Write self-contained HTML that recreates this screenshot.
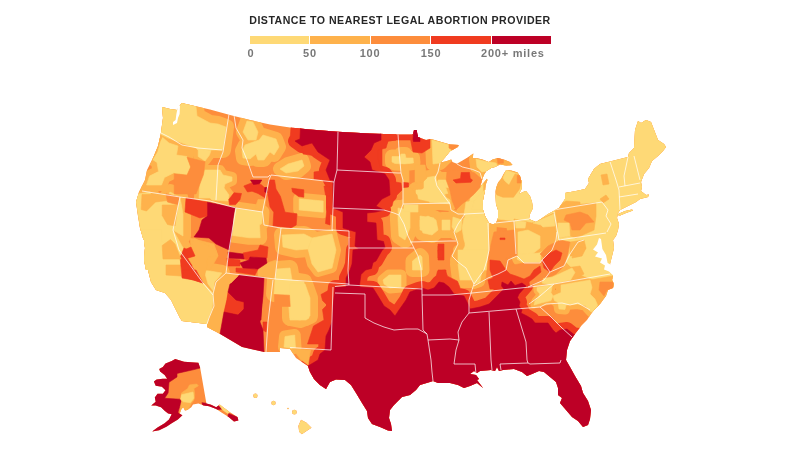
<!DOCTYPE html>
<html><head><meta charset="utf-8"><title>Distance to nearest legal abortion provider</title>
<style>
html,body{margin:0;padding:0;background:#fff;}
body{width:800px;height:450px;overflow:hidden;position:relative;font-family:"Liberation Sans",sans-serif;}
#title{position:absolute;left:0;width:800px;top:13.5px;text-align:center;font-weight:bold;font-size:10.6px;letter-spacing:0.49px;color:#262626;line-height:13px;white-space:nowrap;}
.lg{position:absolute;top:36.4px;height:8px;}
.lb{position:absolute;top:48.2px;font-size:10px;font-weight:bold;color:#787878;line-height:12px;letter-spacing:0.7px;white-space:nowrap;transform:translateX(-50%) scaleX(1.1);}
svg{position:absolute;left:0;top:0;}
</style></head><body>
<div id="title">DISTANCE TO NEAREST LEGAL ABORTION PROVIDER</div>

<div class="lg" style="left:249.6px;width:59.5px;background:#fed976"></div>
<div class="lg" style="left:310.1px;width:59.8px;background:#feb24c"></div>
<div class="lg" style="left:370.9px;width:59.2px;background:#fd8d3c"></div>
<div class="lg" style="left:431.1px;width:59.8px;background:#f03b20"></div>
<div class="lg" style="left:491.9px;width:59.5px;background:#bd0026"></div>
<div class="lb" style="left:250.8px">0</div>
<div class="lb" style="left:310px">50</div>
<div class="lb" style="left:369.8px">100</div>
<div class="lb" style="left:430.6px">150</div>
<div class="lb" style="left:480.6px;transform:scaleX(1.1);transform-origin:0 0">200+ miles</div>
<svg width="800" height="450" viewBox="0 0 800 450">
<defs><clipPath id="us"><path d="M162.0 107.0 L170.0 109.0 L177.0 110.0 L181.6 103.0 L210.0 109.6 L230.0 115.0 L250.0 120.0 L270.0 124.4 L290.0 127.5 L310.0 129.5 L338.0 131.8 L370.0 133.6 L398.0 134.4 L413.0 134.4 L414.0 130.0 L416.6 130.0 L418.0 137.0 L426.0 140.0 L431.0 139.0 L438.0 141.0 L450.0 144.4 L458.8 145.0 L458.0 146.9 L450.0 151.2 L445.0 157.5 L440.6 162.5 L446.2 161.2 L451.2 159.4 L452.5 161.9 L456.9 163.8 L462.5 160.6 L467.5 157.5 L471.2 155.0 L473.3 153.4 L472.8 158.1 L476.2 158.1 L482.5 159.4 L488.8 161.9 L492.5 159.4 L498.1 158.1 L505.0 160.0 L510.0 161.9 L512.5 165.0 L506.2 165.6 L500.0 164.4 L495.0 166.9 L491.2 168.1 L486.2 171.2 L483.8 175.0 L482.5 178.8 L481.2 183.1 L480.0 186.9 L483.8 182.5 L486.9 178.8 L487.5 180.0 L485.6 185.0 L485.0 191.0 L483.5 197.0 L482.5 204.0 L483.0 210.0 L485.0 216.0 L489.0 223.0 L493.0 224.4 L496.0 223.0 L498.0 218.0 L498.0 210.0 L496.0 204.0 L495.6 196.0 L495.6 191.0 L496.2 187.5 L498.1 182.5 L501.2 178.8 L503.8 173.8 L506.2 170.0 L511.2 170.6 L517.5 172.5 L520.0 176.2 L521.9 182.5 L521.5 189.0 L519.0 194.0 L523.0 192.0 L526.0 191.0 L530.0 196.0 L532.0 202.0 L533.0 208.0 L530.0 214.0 L529.0 219.0 L536.0 222.0 L540.0 219.5 L548.0 214.0 L559.0 208.0 L565.0 199.0 L565.0 193.0 L576.0 191.0 L585.0 189.0 L589.0 183.0 L588.0 179.0 L594.0 169.0 L600.0 164.0 L610.0 161.6 L628.0 157.0 L629.0 153.0 L634.0 148.0 L635.0 130.0 L638.0 121.0 L641.0 123.0 L646.0 120.0 L651.0 122.0 L658.0 140.0 L664.0 144.0 L666.0 147.0 L663.0 151.0 L658.0 156.0 L652.0 161.0 L649.0 168.0 L644.0 174.0 L641.0 182.0 L642.0 187.0 L641.0 191.0 L646.0 195.0 L649.0 194.4 L648.0 197.0 L640.0 199.0 L636.0 202.0 L628.0 206.0 L620.0 210.0 L618.0 213.0 L617.0 218.0 L619.0 224.0 L618.0 230.0 L616.0 236.0 L613.0 240.0 L614.0 248.0 L612.0 256.0 L610.0 264.0 L611.0 270.0 L613.0 276.0 L612.0 280.0 L614.0 284.0 L613.0 288.0 L608.0 290.0 L606.0 296.0 L600.0 304.0 L594.0 310.0 L591.0 314.0 L587.0 320.0 L582.0 325.0 L575.0 334.0 L570.0 341.0 L567.0 350.0 L566.0 360.0 L570.0 367.0 L575.0 376.0 L581.0 386.0 L583.0 393.0 L588.0 401.0 L591.0 410.0 L590.0 419.0 L588.0 425.0 L583.0 427.0 L578.0 421.0 L572.0 417.0 L566.0 410.0 L560.0 403.0 L562.0 398.0 L558.0 395.0 L558.0 388.0 L556.0 382.0 L550.0 377.0 L544.0 372.0 L539.0 371.0 L532.0 374.0 L527.0 376.0 L522.0 372.0 L514.0 369.0 L503.0 370.0 L499.0 371.0 L497.0 367.0 L495.0 371.0 L491.0 370.0 L480.0 371.0 L477.0 373.0 L474.0 371.0 L470.0 374.0 L476.0 375.0 L479.0 379.0 L477.0 380.0 L480.0 384.0 L483.0 388.0 L477.0 383.0 L470.0 386.0 L464.0 388.0 L458.0 385.0 L450.0 383.0 L438.0 383.0 L433.0 381.0 L430.0 382.0 L420.0 385.0 L416.0 390.0 L410.0 395.0 L402.0 397.0 L399.0 400.0 L394.0 405.0 L390.0 410.0 L389.0 418.0 L391.0 424.0 L392.0 431.0 L388.0 430.4 L380.0 427.0 L372.0 424.0 L368.0 418.0 L367.0 411.0 L362.0 403.0 L356.0 393.0 L351.0 385.0 L345.0 380.0 L336.0 379.4 L330.0 382.0 L326.0 389.0 L320.0 385.0 L314.0 379.0 L310.0 372.0 L308.0 366.0 L302.0 362.0 L296.0 358.0 L290.0 349.0 L280.0 348.0 L280.0 352.0 L264.0 352.0 L242.0 347.0 L220.0 334.0 L207.0 327.0 L207.0 324.0 L182.0 321.0 L180.0 318.0 L171.0 300.0 L165.0 293.0 L156.0 290.0 L151.0 282.0 L148.0 270.0 L146.0 270.0 L144.0 260.0 L145.0 248.0 L144.0 240.0 L143.0 238.0 L140.0 228.0 L138.0 216.0 L136.0 202.0 L139.0 192.0 L145.0 180.0 L147.0 170.0 L153.0 158.0 L158.0 146.0 L161.0 133.0 L162.0 125.0 L163.0 118.0Z M618.0 214.0 L625.0 211.0 L632.0 209.6 L633.0 210.6 L626.0 213.0 L619.0 216.0Z M175.2 359.1 L184.1 361.8 L198.4 362.7 L200.2 368.0 L206.4 403.6 L210.8 404.5 L216.2 407.2 L219.7 404.5 L223.3 407.2 L230.4 412.5 L237.5 416.9 L238.4 420.5 L234.0 421.4 L228.6 416.9 L221.5 412.5 L216.2 408.9 L209.1 406.3 L203.7 405.4 L198.4 403.6 L193.0 404.5 L191.3 407.2 L187.7 409.8 L185.0 410.7 L183.3 407.2 L181.5 408.9 L179.7 413.4 L182.4 415.2 L177.9 419.6 L171.7 423.2 L166.4 426.7 L159.2 430.3 L152.1 431.5 L157.5 427.6 L164.6 423.2 L169.0 419.6 L171.7 414.3 L168.1 413.4 L164.6 410.7 L161.0 407.2 L155.7 405.4 L151.2 405.4 L155.7 401.8 L154.8 397.4 L157.5 393.8 L162.8 393.8 L165.5 390.3 L161.9 386.7 L155.7 385.8 L153.9 381.4 L156.6 379.6 L162.8 378.7 L167.2 378.7 L164.6 375.1 L160.1 371.6 L159.2 368.9 L162.8 367.1 L165.5 363.6 L171.7 360.9Z M301.0 419.7 L306.3 422.4 L311.6 427.7 L306.3 431.2 L301.9 434.3 L299.2 432.1 L298.3 425.9Z M253.2 395.7 a2.2 2.2 0 1 0 4.4 0 a2.2 2.2 0 1 0 -4.4 0Z M271.3 403.0 a2.2 2.2 0 1 0 4.4 0 a2.2 2.2 0 1 0 -4.4 0Z M292.0 412.2 a2.4 2.4 0 1 0 4.8 0 a2.4 2.4 0 1 0 -4.8 0Z M287.2 408.5 a0.8 0.8 0 1 0 1.6 0 a0.8 0.8 0 1 0 -1.6 0Z"/></clipPath></defs>
<g clip-path="url(#us)" stroke-linejoin="round">
<rect x="100" y="90" width="600" height="360" fill="#fd8d3c"/>
<polygon points="204.0,270.0 222.0,273.0 215.0,282.0 214.0,292.0 208.0,284.0" fill="#feb24c" stroke="#feb24c" stroke-width="16"/>
<polygon points="282.0,235.0 304.0,234.0 312.0,238.0 308.0,249.0 296.0,250.0 283.0,247.0" fill="#feb24c" stroke="#feb24c" stroke-width="16"/>
<polygon points="312.0,238.0 332.0,234.0 336.0,250.0 332.0,268.0 318.0,272.0 312.0,264.0 308.0,249.0" fill="#feb24c" stroke="#feb24c" stroke-width="10"/>
<polygon points="277.0,269.0 290.0,268.0 292.0,280.0 304.0,282.0 305.0,294.0 288.0,297.0 274.0,294.0 275.0,280.0" fill="#feb24c" stroke="#feb24c" stroke-width="16"/>
<polygon points="288.0,297.0 305.0,294.0 308.0,300.0 309.0,318.0 306.0,320.0 290.0,320.0" fill="#feb24c" stroke="#feb24c" stroke-width="12"/>
<polygon points="247.0,121.0 253.0,122.0 258.0,132.0 256.0,140.0 248.0,140.0 243.0,132.0" fill="#feb24c" stroke="#feb24c" stroke-width="14"/>
<polygon points="242.0,151.0 245.0,145.0 259.0,140.0 263.0,135.0 276.0,139.0 279.0,147.0 274.0,155.0 270.0,152.0 264.0,160.0 258.0,160.0 256.0,154.0 250.0,159.0 243.0,158.0" fill="#feb24c" stroke="#feb24c" stroke-width="14"/>
<polygon points="280.0,169.0 288.0,164.0 302.0,160.0 304.0,166.0 298.0,171.0 286.0,173.0" fill="#feb24c" stroke="#feb24c" stroke-width="14"/>
<polygon points="160.0,106.0 181.6,102.0 196.0,106.4 197.0,116.0 210.0,123.0 218.0,124.0 226.0,127.0 223.0,150.0 210.0,150.0 198.0,150.0 196.0,148.0 182.0,143.0 168.0,138.0 160.0,134.0" fill="#feb24c" stroke="#feb24c" stroke-width="16"/>
<polygon points="138.0,194.0 150.0,192.0 154.0,202.0 166.0,200.0 170.0,192.0 180.0,197.0 183.0,214.0 183.0,236.0 173.0,230.0 182.0,246.0 196.0,270.0 144.0,270.0 142.0,240.0 136.0,202.0" fill="#feb24c" stroke="#feb24c" stroke-width="16"/>
<polygon points="418.0,190.0 442.0,190.0 444.0,202.0 418.0,202.0" fill="#feb24c" stroke="#feb24c" stroke-width="16"/>
<polygon points="438.0,180.0 450.0,180.0 450.0,188.0 438.0,186.0" fill="#feb24c" stroke="#feb24c" stroke-width="16"/>
<polygon points="398.0,208.0 410.0,210.0 410.0,228.0 405.0,240.0 399.0,236.0 398.0,220.0" fill="#feb24c" stroke="#feb24c" stroke-width="16"/>
<polygon points="420.0,216.0 434.0,218.0 434.0,232.0 420.0,230.0" fill="#feb24c" stroke="#feb24c" stroke-width="16"/>
<polygon points="442.0,220.0 450.0,220.0 450.0,230.0 442.0,230.0" fill="#feb24c" stroke="#feb24c" stroke-width="16"/>
<polygon points="392.0,156.5 400.0,156.5 401.0,154.0 405.0,154.0 406.0,158.0 413.0,158.0 413.5,163.0 405.0,164.0 395.0,163.5 392.0,162.0" fill="#feb24c" stroke="#feb24c" stroke-width="14"/>
<polygon points="432.0,140.0 450.0,145.0 453.0,150.0 440.0,163.0 433.0,164.0" fill="#feb24c" stroke="#feb24c" stroke-width="14"/>
<polygon points="476.0,159.0 484.0,161.0 496.0,163.0 498.0,167.0 492.0,170.0 482.0,172.0 477.0,167.0" fill="#feb24c" stroke="#feb24c" stroke-width="14"/>
<polygon points="506.0,170.0 518.0,174.0 516.0,186.0 508.0,186.0 503.0,178.0" fill="#feb24c" stroke="#feb24c" stroke-width="14"/>
<polygon points="497.0,219.0 494.0,196.0 540.0,160.0 560.0,190.0 585.0,170.0 620.0,140.0 630.0,110.0 670.0,115.0 680.0,150.0 660.0,200.0 630.0,225.0 625.0,250.0 622.0,275.0 615.0,280.0 596.0,281.0 575.0,272.5 572.0,268.0 566.0,262.0 566.0,250.0 560.0,246.0 548.0,252.0 535.0,258.0 520.0,258.0 516.0,240.0 514.0,221.0" fill="#feb24c" stroke="#feb24c" stroke-width="16"/>
<polygon points="472.0,180.0 483.0,180.0 483.0,206.0 485.0,214.0 489.0,223.0 488.0,240.0 487.0,270.0 460.0,270.0 458.0,260.0 465.0,246.0 465.0,216.0 470.0,200.0" fill="#feb24c" stroke="#feb24c" stroke-width="16"/>
<polygon points="416.0,190.0 444.0,190.0 446.0,200.0 430.0,202.0 416.0,198.0" fill="#feb24c" stroke="#feb24c" stroke-width="16"/>
<polygon points="420.0,220.0 428.0,216.0 436.0,220.0 438.0,230.0 432.0,235.0 423.0,233.0 420.0,226.0" fill="#feb24c" stroke="#feb24c" stroke-width="16"/>
<polygon points="453.0,217.0 462.0,220.0 461.0,230.0 456.0,233.0 452.0,227.0" fill="#feb24c" stroke="#feb24c" stroke-width="14"/>
<polygon points="464.0,218.0 484.0,216.0 488.0,226.0 489.0,250.0 486.0,268.0 478.0,270.0 474.0,280.0 460.0,280.0 458.0,264.0 464.0,266.0 468.0,250.0 464.0,240.0 462.0,228.0" fill="#feb24c" stroke="#feb24c" stroke-width="16"/>
<polygon points="466.0,202.0 483.0,200.0 483.0,214.0 464.0,215.0" fill="#feb24c" stroke="#feb24c" stroke-width="16"/>
<polygon points="458.0,250.0 488.0,250.0 488.0,262.0 482.0,270.0 480.0,282.0 474.0,284.0 470.0,272.0 462.0,268.0 458.0,262.0" fill="#feb24c" stroke="#feb24c" stroke-width="10"/>
<polygon points="389.0,275.0 401.0,275.0 401.0,287.0 390.0,288.0 384.0,284.0 383.0,280.0" fill="#feb24c" stroke="#feb24c" stroke-width="11.0"/>
<polygon points="290.0,284.0 305.0,284.0 310.0,298.0 310.0,316.0 300.0,320.0 290.0,318.0" fill="#feb24c" stroke="#feb24c" stroke-width="16"/>
<polygon points="285.0,336.5 294.7,335.0 295.5,347.7 292.5,348.5 284.0,347.0" fill="#feb24c" stroke="#feb24c" stroke-width="12"/>
<polygon points="142.0,230.0 162.0,230.0 162.0,242.0 170.0,248.0 180.0,256.0 182.0,277.0 190.0,279.0 203.0,283.0 214.0,294.0 210.0,324.0 180.0,324.0 150.0,290.0 142.0,250.0" fill="#feb24c" stroke="#feb24c" stroke-width="16"/>
<polygon points="543.5,278.5 552.5,277.0 572.0,268.0 575.0,272.5 570.5,280.0 549.5,284.5 542.0,283.0" fill="#feb24c" stroke="#feb24c" stroke-width="10"/>
<polygon points="537.0,287.5 552.5,284.4 551.0,292.5 553.0,296.0 551.0,300.6 541.0,303.0 534.0,305.0 535.0,301.0 538.0,297.5 540.0,294.0 537.0,290.6" fill="#feb24c" stroke="#feb24c" stroke-width="7.0"/>
<polygon points="561.0,285.0 590.0,280.0 592.0,287.5 590.0,294.0 595.0,299.0 597.5,305.0 596.0,311.0 591.0,312.0 585.0,305.6 577.5,304.0 566.0,305.0 565.0,309.4 559.0,309.0 558.0,302.5 554.4,300.6 553.0,296.0 561.0,292.5" fill="#feb24c" stroke="#feb24c" stroke-width="10"/>
<polygon points="235.5,208.5 262.5,212.2 261.8,223.5 259.5,225.0 260.2,237.8 249.0,237.8 232.5,235.5 234.0,217.5" fill="#feb24c" stroke="#feb24c" stroke-width="14"/>
<polygon points="205.0,170.0 220.0,170.0 223.0,175.0 232.0,177.0 232.0,181.0 225.0,184.0 224.0,188.0 229.0,195.0 228.0,201.0 212.0,200.0 210.0,198.0 199.0,198.0 200.0,182.0" fill="#feb24c" stroke="#feb24c" stroke-width="10"/>
<polygon points="299.2,198.8 323.2,201.0 323.2,212.2 299.2,210.0" fill="#feb24c" stroke="#feb24c" stroke-width="12"/>
<polygon points="424.0,178.0 436.0,176.0 437.0,186.0 444.0,196.0 450.0,200.0 450.0,204.0 430.0,202.0 418.0,200.0 417.0,194.0 424.0,188.0" fill="#feb24c" stroke="#feb24c" stroke-width="14"/>
<polygon points="404.0,205.0 418.0,205.0 418.0,212.0 404.0,212.0" fill="#feb24c" stroke="#feb24c" stroke-width="12"/>
<polygon points="480.0,194.0 486.0,189.0 484.4,210.0 472.0,210.0 474.0,202.0" fill="#feb24c" stroke="#feb24c" stroke-width="10"/>
<polygon points="412.5,261.0 420.0,255.0 422.0,257.0 422.5,270.0 412.5,270.0" fill="#feb24c" stroke="#feb24c" stroke-width="14"/>
<polygon points="162.2,137.0 169.0,143.0 178.0,146.0 176.5,155.0 187.0,156.5 190.0,167.0 187.0,174.5 173.5,173.0 164.5,177.5 161.5,185.0 146.5,185.0 149.5,176.0 158.5,171.5 157.0,162.5 152.5,159.5 157.0,152.0 160.0,141.5" fill="#feb24c" stroke="#feb24c" stroke-width="12"/>
<polygon points="198.2,149.0 211.0,150.5 209.5,155.0 205.0,161.0 198.2,156.5" fill="#feb24c" stroke="#feb24c" stroke-width="10"/>
<polygon points="437.2,181.5 444.0,182.2 447.8,193.5 442.5,194.2 438.0,187.5" fill="#feb24c" stroke="#feb24c" stroke-width="8"/>
<polygon points="300.0,125.0 381.0,132.0 381.0,140.0 374.0,143.0 371.0,150.0 364.0,157.0 370.0,162.0 372.0,170.0 385.0,174.0 389.0,180.0 390.0,195.0 382.0,199.0 376.0,206.0 384.0,210.0 376.0,212.0 367.0,213.0 367.0,222.0 376.0,223.0 377.0,240.0 383.5,241.5 385.0,247.5 382.0,250.5 376.0,261.0 373.0,262.5 371.5,268.5 365.5,270.0 361.0,274.5 359.5,285.0 360.0,287.0 373.0,288.0 378.0,296.0 384.0,306.0 390.0,310.0 395.0,316.0 399.0,310.0 406.0,300.0 410.0,292.0 418.0,289.0 422.0,288.0 428.0,290.0 434.0,288.0 439.0,282.0 444.0,283.0 449.0,287.0 454.0,294.0 464.0,296.0 468.0,304.0 470.0,309.0 480.0,307.0 489.0,304.0 495.0,298.0 500.0,293.0 504.0,289.0 501.5,286.0 502.0,282.0 508.0,285.0 511.0,281.0 515.0,285.5 522.0,283.0 526.0,286.0 523.0,289.5 519.0,294.0 517.5,297.5 520.0,302.0 519.0,306.0 522.0,310.0 521.0,313.0 527.0,316.0 532.0,319.0 535.0,323.0 541.0,323.0 548.0,323.0 553.0,330.0 556.0,333.0 560.0,330.0 567.0,329.0 574.0,334.5 580.0,335.0 640.0,330.0 640.0,460.0 322.0,460.0 322.0,392.0 300.0,370.0 308.0,366.0 318.0,360.0 320.0,354.0 325.0,350.0 326.0,336.0 329.0,330.0 332.0,322.0 333.0,306.0 335.0,287.0 346.0,287.0 346.0,278.0 350.0,270.0 352.0,264.0 353.0,250.0 359.0,249.0 355.0,246.0 356.0,232.0 343.0,228.0 343.0,212.0 333.0,208.0 333.0,180.0 330.0,180.0 326.0,170.0 330.0,160.0 318.0,152.0 312.0,143.0 305.0,145.0 302.0,146.0 295.0,141.0 300.0,139.0 301.0,115.0" fill="#f03b20" stroke="#f03b20" stroke-width="14"/>
<polygon points="204.0,270.0 222.0,273.0 215.0,282.0 214.0,292.0 208.0,284.0" fill="#fed976" stroke="#fed976" stroke-width="0.6"/>
<polygon points="282.0,235.0 304.0,234.0 312.0,238.0 308.0,249.0 296.0,250.0 283.0,247.0" fill="#fed976" stroke="#fed976" stroke-width="0.6"/>
<polygon points="312.0,238.0 332.0,234.0 336.0,250.0 332.0,268.0 318.0,272.0 312.0,264.0 308.0,249.0" fill="#fed976" stroke="#fed976" stroke-width="0.6"/>
<polygon points="277.0,269.0 290.0,268.0 292.0,280.0 304.0,282.0 305.0,294.0 288.0,297.0 274.0,294.0 275.0,280.0" fill="#fed976" stroke="#fed976" stroke-width="0.6"/>
<polygon points="288.0,297.0 305.0,294.0 308.0,300.0 309.0,318.0 306.0,320.0 290.0,320.0" fill="#fed976" stroke="#fed976" stroke-width="0.6"/>
<polygon points="258.0,269.0 267.0,263.0 276.0,260.0 275.0,278.0 258.0,276.0" fill="#feb24c" stroke="#feb24c" stroke-width="0.6"/>
<polygon points="215.0,282.0 226.0,273.0 237.0,275.6 230.0,284.0 229.0,292.0 226.0,300.0 224.0,314.0 212.0,316.0 214.0,296.0" fill="#feb24c" stroke="#feb24c" stroke-width="0.6"/>
<polygon points="243.0,253.0 258.0,250.0 260.0,245.0 268.0,247.0 267.0,258.0 250.0,257.0 249.0,260.0 244.0,259.0" fill="#f03b20" stroke="#f03b20" stroke-width="0.6"/>
<polygon points="227.0,258.0 240.0,260.0 240.0,266.0 228.0,266.0" fill="#f03b20" stroke="#f03b20" stroke-width="0.6"/>
<polygon points="236.0,268.0 258.0,269.0 255.0,275.0 236.0,272.0" fill="#f03b20" stroke="#f03b20" stroke-width="0.6"/>
<polygon points="229.0,292.0 236.0,298.0 244.0,301.0 243.0,313.0 224.0,314.0 226.0,300.0" fill="#f03b20" stroke="#f03b20" stroke-width="0.6"/>
<polygon points="228.0,252.0 243.0,254.0 244.0,259.0 229.0,258.0" fill="#bd0026" stroke="#bd0026" stroke-width="0.6"/>
<polygon points="240.0,263.0 249.0,260.0 250.0,257.0 266.0,258.0 267.0,263.0 258.0,269.0 243.0,268.0" fill="#bd0026" stroke="#bd0026" stroke-width="0.6"/>
<polygon points="237.0,275.6 263.0,278.0 261.0,320.0 223.0,320.0 224.0,314.0 243.0,313.0 244.0,301.0 236.0,298.0 229.0,292.0 230.0,284.0" fill="#bd0026" stroke="#bd0026" stroke-width="0.6"/>
<polygon points="207.0,202.0 236.0,208.0 229.0,250.0 216.0,244.0 209.0,238.0 194.0,237.0 199.0,230.0 202.0,220.0 207.0,216.0" fill="#bd0026" stroke="#bd0026" stroke-width="0.6"/>
<polygon points="247.0,121.0 253.0,122.0 258.0,132.0 256.0,140.0 248.0,140.0 243.0,132.0" fill="#fed976" stroke="#fed976" stroke-width="0.6"/>
<polygon points="242.0,151.0 245.0,145.0 259.0,140.0 263.0,135.0 276.0,139.0 279.0,147.0 274.0,155.0 270.0,152.0 264.0,160.0 258.0,160.0 256.0,154.0 250.0,159.0 243.0,158.0" fill="#fed976" stroke="#fed976" stroke-width="0.6"/>
<polygon points="280.0,169.0 288.0,164.0 302.0,160.0 304.0,166.0 298.0,171.0 286.0,173.0" fill="#fed976" stroke="#fed976" stroke-width="0.6"/>
<polygon points="291.0,127.0 301.0,128.0 300.0,139.0 295.0,141.0 290.0,140.0" fill="#f03b20" stroke="#f03b20" stroke-width="0.6"/>
<polygon points="302.0,148.0 314.0,144.0 318.0,152.0 330.0,158.0 322.0,158.0 310.0,155.0 303.0,154.0" fill="#f03b20" stroke="#f03b20" stroke-width="0.6"/>
<polygon points="314.0,172.0 326.0,170.0 327.0,180.0 334.0,182.0 334.0,190.0 326.0,190.0 325.0,180.0 314.0,179.0" fill="#f03b20" stroke="#f03b20" stroke-width="0.6"/>
<polygon points="160.0,106.0 181.6,102.0 196.0,106.4 197.0,116.0 210.0,123.0 218.0,124.0 226.0,127.0 223.0,150.0 210.0,150.0 198.0,150.0 196.0,148.0 182.0,143.0 168.0,138.0 160.0,134.0" fill="#fed976" stroke="#fed976" stroke-width="0.6"/>
<polygon points="138.0,194.0 150.0,192.0 154.0,202.0 166.0,200.0 170.0,192.0 180.0,197.0 183.0,214.0 183.0,236.0 173.0,230.0 182.0,246.0 196.0,270.0 144.0,270.0 142.0,240.0 136.0,202.0" fill="#fed976" stroke="#fed976" stroke-width="0.6"/>
<polygon points="190.0,238.0 214.0,244.0 218.0,256.0 210.0,270.0 196.0,270.0 192.0,256.0" fill="#feb24c" stroke="#feb24c" stroke-width="0.6"/>
<polygon points="186.0,198.0 207.0,202.0 207.0,216.0 200.0,218.0 185.0,212.0" fill="#f03b20" stroke="#f03b20" stroke-width="0.6"/>
<polygon points="184.0,248.0 192.0,252.0 196.0,262.0 188.0,270.0 180.0,258.0" fill="#f03b20" stroke="#f03b20" stroke-width="0.6"/>
<polygon points="418.0,190.0 442.0,190.0 444.0,202.0 418.0,202.0" fill="#fed976" stroke="#fed976" stroke-width="0.6"/>
<polygon points="438.0,180.0 450.0,180.0 450.0,188.0 438.0,186.0" fill="#fed976" stroke="#fed976" stroke-width="0.6"/>
<polygon points="398.0,208.0 410.0,210.0 410.0,228.0 405.0,240.0 399.0,236.0 398.0,220.0" fill="#fed976" stroke="#fed976" stroke-width="0.6"/>
<polygon points="420.0,216.0 434.0,218.0 434.0,232.0 420.0,230.0" fill="#fed976" stroke="#fed976" stroke-width="0.6"/>
<polygon points="442.0,220.0 450.0,220.0 450.0,230.0 442.0,230.0" fill="#fed976" stroke="#fed976" stroke-width="0.6"/>
<polygon points="438.0,244.0 444.0,244.0 444.0,260.0 438.0,260.0" fill="#f03b20" stroke="#f03b20" stroke-width="0.6"/>
<polygon points="392.0,156.5 400.0,156.5 401.0,154.0 405.0,154.0 406.0,158.0 413.0,158.0 413.5,163.0 405.0,164.0 395.0,163.5 392.0,162.0" fill="#fed976" stroke="#fed976" stroke-width="0.6"/>
<polygon points="412.4,130.0 418.0,130.0 420.0,141.0 412.4,141.0" fill="#bd0026" stroke="#bd0026" stroke-width="0.6"/>
<polygon points="432.0,140.0 450.0,145.0 453.0,150.0 440.0,163.0 433.0,164.0" fill="#fed976" stroke="#fed976" stroke-width="0.6"/>
<polygon points="476.0,159.0 484.0,161.0 496.0,163.0 498.0,167.0 492.0,170.0 482.0,172.0 477.0,167.0" fill="#fed976" stroke="#fed976" stroke-width="0.6"/>
<polygon points="506.0,170.0 518.0,174.0 516.0,186.0 508.0,186.0 503.0,178.0" fill="#fed976" stroke="#fed976" stroke-width="0.6"/>
<polygon points="413.0,130.0 418.0,130.0 419.0,140.0 413.0,140.0" fill="#bd0026" stroke="#bd0026" stroke-width="0.6"/>
<polygon points="453.0,179.0 461.0,178.0 461.0,172.0 469.0,172.0 469.0,178.0 474.0,180.0 470.0,182.0 457.0,183.0" fill="#f03b20" stroke="#f03b20" stroke-width="0.6"/>
<polygon points="497.0,219.0 494.0,196.0 540.0,160.0 560.0,190.0 585.0,170.0 620.0,140.0 630.0,110.0 670.0,115.0 680.0,150.0 660.0,200.0 630.0,225.0 625.0,250.0 622.0,275.0 615.0,280.0 596.0,281.0 575.0,272.5 572.0,268.0 566.0,262.0 566.0,250.0 560.0,246.0 548.0,252.0 535.0,258.0 520.0,258.0 516.0,240.0 514.0,221.0" fill="#fed976" stroke="#fed976" stroke-width="0.6"/>
<polygon points="472.0,180.0 483.0,180.0 483.0,206.0 485.0,214.0 489.0,223.0 488.0,240.0 487.0,270.0 460.0,270.0 458.0,260.0 465.0,246.0 465.0,216.0 470.0,200.0" fill="#fed976" stroke="#fed976" stroke-width="0.6"/>
<polygon points="416.0,190.0 444.0,190.0 446.0,200.0 430.0,202.0 416.0,198.0" fill="#fed976" stroke="#fed976" stroke-width="0.6"/>
<polygon points="420.0,220.0 428.0,216.0 436.0,220.0 438.0,230.0 432.0,235.0 423.0,233.0 420.0,226.0" fill="#fed976" stroke="#fed976" stroke-width="0.6"/>
<polygon points="453.0,217.0 462.0,220.0 461.0,230.0 456.0,233.0 452.0,227.0" fill="#fed976" stroke="#fed976" stroke-width="0.6"/>
<polygon points="464.0,218.0 484.0,216.0 488.0,226.0 489.0,250.0 486.0,268.0 478.0,270.0 474.0,280.0 460.0,280.0 458.0,264.0 464.0,266.0 468.0,250.0 464.0,240.0 462.0,228.0" fill="#fed976" stroke="#fed976" stroke-width="0.6"/>
<polygon points="466.0,202.0 483.0,200.0 483.0,214.0 464.0,215.0" fill="#fed976" stroke="#fed976" stroke-width="0.6"/>
<polygon points="438.0,246.0 443.0,246.0 443.0,258.0 438.0,258.0" fill="#f03b20" stroke="#f03b20" stroke-width="0.6"/>
<polygon points="438.0,270.0 446.0,270.0 446.0,280.0 438.0,280.0" fill="#f03b20" stroke="#f03b20" stroke-width="0.6"/>
<polygon points="458.0,250.0 488.0,250.0 488.0,262.0 482.0,270.0 480.0,282.0 474.0,284.0 470.0,272.0 462.0,268.0 458.0,262.0" fill="#fed976" stroke="#fed976" stroke-width="0.6"/>
<polygon points="438.0,250.0 443.0,250.0 443.0,258.0 439.0,258.0" fill="#f03b20" stroke="#f03b20" stroke-width="0.6"/>
<polygon points="389.0,275.0 401.0,275.0 401.0,287.0 390.0,288.0 384.0,284.0 383.0,280.0" fill="#fed976" stroke="#fed976" stroke-width="0.6"/>
<polygon points="290.0,284.0 305.0,284.0 310.0,298.0 310.0,316.0 300.0,320.0 290.0,318.0" fill="#fed976" stroke="#fed976" stroke-width="0.6"/>
<polygon points="285.0,336.5 294.7,335.0 295.5,347.7 292.5,348.5 284.0,347.0" fill="#fed976" stroke="#fed976" stroke-width="0.6"/>
<polygon points="142.0,230.0 162.0,230.0 162.0,242.0 170.0,248.0 180.0,256.0 182.0,277.0 190.0,279.0 203.0,283.0 214.0,294.0 210.0,324.0 180.0,324.0 150.0,290.0 142.0,250.0" fill="#fed976" stroke="#fed976" stroke-width="0.6"/>
<polygon points="166.0,265.0 181.0,265.0 181.0,276.0 166.0,275.0" fill="#feb24c" stroke="#feb24c" stroke-width="0.6"/>
<polygon points="194.0,238.0 216.0,250.0 218.0,256.0 208.0,257.0 206.0,270.0 203.0,281.0 198.0,275.0 188.0,258.0 195.0,256.0 191.0,247.0" fill="#feb24c" stroke="#feb24c" stroke-width="0.6"/>
<polygon points="180.0,256.0 187.0,258.0 198.0,276.0 203.0,283.0 190.0,279.0 182.0,277.0" fill="#f03b20" stroke="#f03b20" stroke-width="0.6"/>
<polygon points="184.0,250.0 191.0,247.0 195.0,256.0 188.0,258.0" fill="#f03b20" stroke="#f03b20" stroke-width="0.6"/>
<polygon points="145.0,352.0 203.7,352.0 200.2,368.0 193.0,369.8 177.0,373.4 177.0,376.9 171.7,380.5 169.0,382.2 168.1,392.9 164.6,398.3 179.7,399.2 181.5,400.9 180.6,403.6 177.9,412.5 183.3,416.1 171.7,433.9 145.0,433.9" fill="#bd0026" stroke="#bd0026" stroke-width="0.6"/>
<polygon points="201.9,402.7 206.4,403.2 216.2,406.8 218.0,405.4 223.3,408.9 216.2,409.8 209.1,406.8 202.8,405.4" fill="#bd0026" stroke="#bd0026" stroke-width="0.6"/>
<polygon points="228.6,413.4 239.3,417.8 239.3,422.3 233.1,421.8 227.7,416.9" fill="#bd0026" stroke="#bd0026" stroke-width="0.6"/>
<polygon points="181.5,392.9 187.7,388.5 189.5,384.9 196.6,384.0 198.4,385.8 193.9,388.5 194.8,394.7 193.9,400.0 191.3,403.6 187.7,410.7 183.3,408.9 179.7,413.4 181.5,401.8" fill="#feb24c" stroke="#feb24c" stroke-width="0.6"/>
<polygon points="181.5,394.7 193.0,392.0 193.9,398.3 190.4,402.7 183.3,401.8 180.6,399.2" fill="#fed976" stroke="#fed976" stroke-width="0.6"/>
<polygon points="218.3,404.1 220.6,404.1 224.2,407.2 229.5,412.5 227.7,413.4 222.4,409.8" fill="#fed976" stroke="#fed976" stroke-width="0.6"/>
<polygon points="555.0,210.0 560.0,206.0 596.0,203.0 596.0,216.0 594.0,230.0 576.0,238.0 570.0,236.0 558.0,238.0 557.0,222.0" fill="#feb24c" stroke="#feb24c" stroke-width="0.6"/>
<polygon points="566.0,215.0 580.0,212.0 588.0,215.0 594.0,222.0 586.0,223.0 580.0,230.0 572.0,230.0 570.0,223.0 564.0,220.0" fill="#fd8d3c" stroke="#fd8d3c" stroke-width="0.6"/>
<polygon points="558.0,223.0 569.0,223.0 570.0,236.0 558.0,238.0" fill="#fed976" stroke="#fed976" stroke-width="0.6"/>
<polygon points="560.0,205.0 566.0,201.0 580.0,202.0 580.0,206.0 560.0,210.0" fill="#feb24c" stroke="#feb24c" stroke-width="0.6"/>
<polygon points="600.0,199.0 606.0,195.0 609.0,199.0 603.0,203.0" fill="#feb24c" stroke="#feb24c" stroke-width="0.6"/>
<polygon points="514.0,219.0 532.0,223.0 554.0,213.0 557.0,240.0 546.0,249.0 530.0,257.0 517.0,257.0" fill="#feb24c" stroke="#feb24c" stroke-width="0.6"/>
<polygon points="518.0,232.0 528.0,230.0 540.0,236.0 540.0,248.0 530.0,256.0 518.0,254.0" fill="#fed976" stroke="#fed976" stroke-width="0.6"/>
<polygon points="533.0,223.0 554.0,214.0 555.0,226.0 543.0,227.0 541.0,225.0" fill="#fed976" stroke="#fed976" stroke-width="0.6"/>
<polygon points="515.0,220.0 526.0,222.0 525.0,228.0 516.0,228.0" fill="#fed976" stroke="#fed976" stroke-width="0.6"/>
<polygon points="570.0,242.0 584.0,240.0 586.0,248.0 580.0,256.0 570.0,256.0" fill="#feb24c" stroke="#feb24c" stroke-width="0.6"/>
<polygon points="576.0,246.0 586.0,248.0 582.0,256.0 572.0,258.0" fill="#feb24c" stroke="#feb24c" stroke-width="0.6"/>
<polygon points="566.0,268.0 580.0,266.0 584.0,274.0 574.0,280.0 564.0,278.0" fill="#feb24c" stroke="#feb24c" stroke-width="0.6"/>
<polygon points="590.0,280.0 613.0,276.0 614.0,288.0 606.0,296.0 600.0,304.0 594.0,310.0 588.0,300.0" fill="#feb24c" stroke="#feb24c" stroke-width="0.6"/>
<polygon points="600.0,282.0 613.0,282.0 613.0,288.0 607.0,290.0 604.0,296.0 599.0,290.0" fill="#fd8d3c" stroke="#fd8d3c" stroke-width="0.6"/>
<polygon points="518.0,254.0 540.0,253.0 541.0,262.0 524.0,263.0 517.0,259.0" fill="#fed976" stroke="#fed976" stroke-width="0.6"/>
<polygon points="494.0,232.0 514.0,230.0 517.0,256.0 506.0,258.0 508.0,266.0 524.0,263.0 540.0,263.0 544.0,258.0 540.0,254.0 548.0,246.0 560.0,240.0 570.0,242.0 568.0,254.0 564.0,266.0 556.0,274.0 544.0,280.0 534.0,284.0 528.0,288.0 490.0,288.0 486.0,280.0 488.0,260.0 491.0,244.0" fill="#fd8d3c" stroke="#fd8d3c" stroke-width="0.6"/>
<polygon points="490.0,260.0 500.0,261.0 506.0,270.0 510.0,274.0 516.0,276.0 524.0,279.0 530.0,276.0 534.0,270.0 540.0,266.0 541.0,272.0 534.0,278.0 529.0,282.0 530.0,289.0 490.0,289.0 488.0,280.0 493.0,278.0 490.0,270.0" fill="#f03b20" stroke="#f03b20" stroke-width="0.6"/>
<polygon points="542.0,260.0 548.0,254.0 556.0,250.0 562.0,253.0 560.0,260.0 554.0,266.0 550.0,272.0 544.0,268.0" fill="#f03b20" stroke="#f03b20" stroke-width="0.6"/>
<polygon points="500.0,238.0 505.0,238.0 505.0,239.6 500.0,239.6" fill="#f03b20" stroke="#f03b20" stroke-width="0.6"/>
<polygon points="543.5,278.5 552.5,277.0 572.0,268.0 575.0,272.5 570.5,280.0 549.5,284.5 542.0,283.0" fill="#fed976" stroke="#fed976" stroke-width="0.6"/>
<polygon points="537.0,287.5 552.5,284.4 551.0,292.5 553.0,296.0 551.0,300.6 541.0,303.0 534.0,305.0 535.0,301.0 538.0,297.5 540.0,294.0 537.0,290.6" fill="#fed976" stroke="#fed976" stroke-width="0.6"/>
<polygon points="561.0,285.0 590.0,280.0 592.0,287.5 590.0,294.0 595.0,299.0 597.5,305.0 596.0,311.0 591.0,312.0 585.0,305.6 577.5,304.0 566.0,305.0 565.0,309.4 559.0,309.0 558.0,302.5 554.4,300.6 553.0,296.0 561.0,292.5" fill="#fed976" stroke="#fed976" stroke-width="0.6"/>
<polygon points="216.0,282.0 224.0,274.0 239.0,275.0 230.0,284.0 228.0,292.0 224.0,312.0 220.0,334.0 207.0,327.0 209.0,318.0 214.0,306.0 213.0,294.0" fill="#feb24c" stroke="#feb24c" stroke-width="0.6"/>
<polygon points="228.0,292.0 236.0,300.0 244.0,302.0 244.0,309.0 238.0,315.0 224.0,312.0 227.0,300.0" fill="#f03b20" stroke="#f03b20" stroke-width="0.6"/>
<polygon points="263.0,322.0 267.0,322.0 266.0,332.0 263.0,330.0" fill="#f03b20" stroke="#f03b20" stroke-width="0.6"/>
<polygon points="183.0,270.0 196.0,270.0 203.0,283.0 194.0,280.0 182.0,278.0" fill="#f03b20" stroke="#f03b20" stroke-width="0.6"/>
<polygon points="239.0,275.0 264.0,278.0 263.0,296.0 260.0,322.0 263.0,330.0 264.0,352.0 242.0,347.0 220.0,334.0 224.0,312.0 238.0,315.0 244.0,309.0 244.0,302.0 236.0,300.0 228.0,292.0 230.0,284.0 239.0,282.0" fill="#bd0026" stroke="#bd0026" stroke-width="0.6"/>
<polygon points="235.5,208.5 262.5,212.2 261.8,223.5 259.5,225.0 260.2,237.8 249.0,237.8 232.5,235.5 234.0,217.5" fill="#fed976" stroke="#fed976" stroke-width="0.6"/>
<polygon points="205.0,170.0 220.0,170.0 223.0,175.0 232.0,177.0 232.0,181.0 225.0,184.0 224.0,188.0 229.0,195.0 228.0,201.0 212.0,200.0 210.0,198.0 199.0,198.0 200.0,182.0" fill="#fed976" stroke="#fed976" stroke-width="0.6"/>
<polygon points="299.2,198.8 323.2,201.0 323.2,212.2 299.2,210.0" fill="#fed976" stroke="#fed976" stroke-width="0.6"/>
<polygon points="258.0,199.5 265.5,199.5 264.8,210.0 255.0,209.2 256.5,204.0" fill="#feb24c" stroke="#feb24c" stroke-width="0.6"/>
<polygon points="269.2,180.0 274.5,180.0 276.0,189.0 280.5,196.5 283.5,207.0 285.0,212.2 297.0,213.8 296.2,225.0 291.0,228.0 273.0,225.8 273.8,212.2 270.0,207.0 267.8,195.0" fill="#f03b20" stroke="#f03b20" stroke-width="0.6"/>
<polygon points="291.8,188.2 303.8,189.8 303.8,197.2 298.5,196.5 292.5,192.0" fill="#f03b20" stroke="#f03b20" stroke-width="0.6"/>
<polygon points="324.0,186.0 330.0,186.8 330.0,196.5 325.5,195.0" fill="#f03b20" stroke="#f03b20" stroke-width="0.6"/>
<polygon points="327.0,207.0 330.0,207.0 330.0,225.0 325.5,223.5" fill="#f03b20" stroke="#f03b20" stroke-width="0.6"/>
<polygon points="243.8,186.0 253.5,182.2 261.0,184.5 266.2,189.0 265.5,198.0 258.0,193.5 252.0,191.2 247.5,192.0" fill="#f03b20" stroke="#f03b20" stroke-width="0.6"/>
<polygon points="228.8,199.5 234.0,192.8 241.5,193.5 240.0,199.5 235.5,204.8 229.5,204.8" fill="#f03b20" stroke="#f03b20" stroke-width="0.6"/>
<polygon points="250.5,180.0 261.8,180.0 259.5,183.8 253.5,184.5" fill="#bd0026" stroke="#bd0026" stroke-width="0.6"/>
<polygon points="264.8,187.5 267.0,187.5 267.0,192.8 264.8,192.0" fill="#bd0026" stroke="#bd0026" stroke-width="0.6"/>
<polygon points="424.0,178.0 436.0,176.0 437.0,186.0 444.0,196.0 450.0,200.0 450.0,204.0 430.0,202.0 418.0,200.0 417.0,194.0 424.0,188.0" fill="#fed976" stroke="#fed976" stroke-width="0.6"/>
<polygon points="404.0,205.0 418.0,205.0 418.0,212.0 404.0,212.0" fill="#fed976" stroke="#fed976" stroke-width="0.6"/>
<polygon points="480.0,194.0 486.0,189.0 484.4,210.0 472.0,210.0 474.0,202.0" fill="#fed976" stroke="#fed976" stroke-width="0.6"/>
<polygon points="380.0,134.0 396.0,135.0 396.0,140.0 382.0,142.0 382.0,172.0 373.0,172.0 373.0,142.0" fill="#f03b20" stroke="#f03b20" stroke-width="0.6"/>
<polygon points="410.0,135.0 430.0,139.0 430.0,148.0 422.0,153.0 413.0,152.0 411.0,142.0" fill="#f03b20" stroke="#f03b20" stroke-width="0.6"/>
<polygon points="381.0,132.0 396.0,134.0 396.0,140.0 388.0,141.0 386.0,148.0 378.0,150.0 378.0,158.0 381.0,170.0 389.0,172.0 390.0,181.0 401.0,183.0 402.0,190.0 394.0,198.0 392.0,206.0 386.0,210.0 376.0,212.0 370.0,200.0 370.0,160.0 364.0,157.0 371.0,150.0 374.0,143.0 381.0,140.0" fill="#f03b20" stroke="#f03b20" stroke-width="0.6"/>
<polygon points="412.5,261.0 420.0,255.0 422.0,257.0 422.5,270.0 412.5,270.0" fill="#fed976" stroke="#fed976" stroke-width="0.6"/>
<polygon points="437.5,271.2 445.0,270.0 447.5,276.2 457.5,281.2 460.0,287.5 457.5,292.5 432.5,292.5 430.0,287.5 433.8,281.2 436.2,276.2" fill="#f03b20" stroke="#f03b20" stroke-width="0.6"/>
<polygon points="162.2,137.0 169.0,143.0 178.0,146.0 176.5,155.0 187.0,156.5 190.0,167.0 187.0,174.5 173.5,173.0 164.5,177.5 161.5,185.0 146.5,185.0 149.5,176.0 158.5,171.5 157.0,162.5 152.5,159.5 157.0,152.0 160.0,141.5" fill="#fed976" stroke="#fed976" stroke-width="0.6"/>
<polygon points="198.2,149.0 211.0,150.5 209.5,155.0 205.0,161.0 198.2,156.5" fill="#fed976" stroke="#fed976" stroke-width="0.6"/>
<polygon points="187.0,157.2 205.0,161.8 203.5,174.5 196.0,194.0 174.2,194.0 174.2,173.8 187.0,175.2 190.8,167.0" fill="#fd8d3c" stroke="#fd8d3c" stroke-width="0.6"/>
<polygon points="142.0,194.5 166.0,193.8 167.5,200.5 155.5,202.0 146.5,211.0 141.2,209.5" fill="#feb24c" stroke="#feb24c" stroke-width="0.6"/>
<polygon points="166.0,193.8 179.5,196.8 178.0,205.0 167.5,202.0" fill="#fd8d3c" stroke="#fd8d3c" stroke-width="0.6"/>
<polygon points="162.2,205.0 178.0,205.0 175.0,226.0 167.5,224.5 162.2,215.5" fill="#feb24c" stroke="#feb24c" stroke-width="0.6"/>
<polygon points="162.2,245.5 170.5,239.5 175.0,244.0 181.0,259.0 163.0,259.0" fill="#feb24c" stroke="#feb24c" stroke-width="0.6"/>
<polygon points="158.5,135.5 162.2,137.0 160.0,141.5 157.0,152.0 152.5,159.5 145.0,160.2 152.5,140.0" fill="#feb24c" stroke="#feb24c" stroke-width="0.6"/>
<polygon points="274.5,294.5 289.5,295.2 290.2,306.5 274.5,306.5" fill="#fd8d3c" stroke="#fd8d3c" stroke-width="0.6"/>
<polygon points="321.0,294.5 334.5,287.0 335.2,344.0 307.5,344.0 313.5,326.0 324.0,320.0 322.5,309.5 327.0,305.0 322.5,300.5" fill="#f03b20" stroke="#f03b20" stroke-width="0.6"/>
<polygon points="292.5,348.5 310.5,350.0 308.2,365.0 300.0,359.0" fill="#feb24c" stroke="#feb24c" stroke-width="0.6"/>
<polygon points="498.5,186.0 504.5,181.5 509.0,185.2 515.0,174.0 521.8,175.5 521.0,183.0 519.5,189.0 513.5,197.2 503.0,197.2 497.0,195.0 495.5,192.0" fill="#feb24c" stroke="#feb24c" stroke-width="0.6"/>
<polygon points="517.2,175.5 521.0,175.5 521.0,183.0 517.2,183.0" fill="#fd8d3c" stroke="#fd8d3c" stroke-width="0.6"/>
<polygon points="437.2,181.5 444.0,182.2 447.8,193.5 442.5,194.2 438.0,187.5" fill="#fed976" stroke="#fed976" stroke-width="0.6"/>
<polygon points="447.0,171.0 460.5,169.5 474.0,172.5 483.0,180.0 480.0,187.5 474.0,194.2 468.0,199.5 462.0,204.0 456.0,210.0 452.2,201.0 450.0,190.5 446.2,180.0" fill="#fd8d3c" stroke="#fd8d3c" stroke-width="0.6"/>
<polygon points="453.0,180.0 460.5,178.5 461.2,172.5 469.5,172.5 470.2,178.5 472.5,180.0 471.0,182.2 456.0,183.0" fill="#f03b20" stroke="#f03b20" stroke-width="0.6"/>
<polygon points="601.0,175.0 607.0,174.0 609.0,184.0 603.0,185.0" fill="#feb24c" stroke="#feb24c" stroke-width="0.6"/>
<polygon points="449.0,143.6 460.0,144.0 453.0,150.4 449.0,148.0" fill="#fd8d3c" stroke="#fd8d3c" stroke-width="0.6"/>
<polygon points="497.0,158.0 504.0,158.4 504.0,163.0 498.0,163.6" fill="#fd8d3c" stroke="#fd8d3c" stroke-width="0.6"/>
<polygon points="504.0,159.0 513.0,161.0 513.0,165.6 504.0,165.0" fill="#feb24c" stroke="#feb24c" stroke-width="0.6"/>
<polygon points="380.0,133.0 413.0,133.0 413.0,140.0 380.0,140.0" fill="#f03b20" stroke="#f03b20" stroke-width="0.6"/>
<polygon points="413.5,135.0 417.5,135.0 420.0,138.0 420.0,141.5 413.5,141.5 413.0,139.0" fill="#bd0026" stroke="#bd0026" stroke-width="0.6"/>
<polygon points="401.5,165.0 409.0,165.0 409.0,182.0 403.0,182.0 401.5,175.0" fill="#feb24c" stroke="#feb24c" stroke-width="0.6"/>
<polygon points="415.0,165.0 425.0,165.0 427.0,178.0 423.0,182.0 415.0,183.0" fill="#feb24c" stroke="#feb24c" stroke-width="0.6"/>
<polygon points="403.0,188.0 410.0,187.5 417.0,195.0 418.0,199.5 429.0,202.0 429.0,203.5 403.0,203.5" fill="#feb24c" stroke="#feb24c" stroke-width="0.6"/>
<polygon points="403.5,182.5 408.5,183.0 408.5,187.0 403.5,187.5" fill="#f03b20" stroke="#f03b20" stroke-width="0.6"/>
<polygon points="300.0,125.0 381.0,132.0 381.0,140.0 374.0,143.0 371.0,150.0 364.0,157.0 370.0,162.0 372.0,170.0 385.0,174.0 389.0,180.0 390.0,195.0 382.0,199.0 376.0,206.0 384.0,210.0 376.0,212.0 367.0,213.0 367.0,222.0 376.0,223.0 377.0,240.0 383.5,241.5 385.0,247.5 382.0,250.5 376.0,261.0 373.0,262.5 371.5,268.5 365.5,270.0 361.0,274.5 359.5,285.0 360.0,287.0 373.0,288.0 378.0,296.0 384.0,306.0 390.0,310.0 395.0,316.0 399.0,310.0 406.0,300.0 410.0,292.0 418.0,289.0 422.0,288.0 428.0,290.0 434.0,288.0 439.0,282.0 444.0,283.0 449.0,287.0 454.0,294.0 464.0,296.0 468.0,304.0 470.0,309.0 480.0,307.0 489.0,304.0 495.0,298.0 500.0,293.0 504.0,289.0 501.5,286.0 502.0,282.0 508.0,285.0 511.0,281.0 515.0,285.5 522.0,283.0 526.0,286.0 523.0,289.5 519.0,294.0 517.5,297.5 520.0,302.0 519.0,306.0 522.0,310.0 521.0,313.0 527.0,316.0 532.0,319.0 535.0,323.0 541.0,323.0 548.0,323.0 553.0,330.0 556.0,333.0 560.0,330.0 567.0,329.0 574.0,334.5 580.0,335.0 640.0,330.0 640.0,460.0 322.0,460.0 322.0,392.0 300.0,370.0 308.0,366.0 318.0,360.0 320.0,354.0 325.0,350.0 326.0,336.0 329.0,330.0 332.0,322.0 333.0,306.0 335.0,287.0 346.0,287.0 346.0,278.0 350.0,270.0 352.0,264.0 353.0,250.0 359.0,249.0 355.0,246.0 356.0,232.0 343.0,228.0 343.0,212.0 333.0,208.0 333.0,180.0 330.0,180.0 326.0,170.0 330.0,160.0 318.0,152.0 312.0,143.0 305.0,145.0 302.0,146.0 295.0,141.0 300.0,139.0 301.0,115.0" fill="#bd0026" stroke="#bd0026" stroke-width="0.6"/>
<path d="M301.0 419.7 L306.3 422.4 L311.6 427.7 L306.3 431.2 L301.9 434.3 L299.2 432.1 L298.3 425.9Z" fill="#fed976"/>
<circle cx="255.4" cy="395.7" r="2.2" fill="#fed976"/>
<circle cx="273.5" cy="403" r="2.2" fill="#fed976"/>
<circle cx="294.4" cy="412.2" r="2.4" fill="#fed976"/>
<circle cx="288" cy="408.5" r="0.8" fill="#fed976"/>
</g>
<polygon points="177.6,105.6 180.0,106.0 179.6,114.0 178.0,118.0 177.0,123.0 173.0,125.0 173.0,122.0 175.6,120.0 176.4,114.0 177.2,110.0" fill="#fff"/>
<polygon points="599.0,238.0 601.0,239.0 602.4,249.0 606.0,255.0 607.6,263.0 610.4,264.4 615.0,270.0 613.2,275.6 609.0,271.4 604.0,269.4 605.0,265.4 600.0,262.4 602.0,258.4 595.0,256.4 598.0,252.4 593.0,249.4 597.0,244.4" fill="#fff"/>
<g fill="none" stroke="#fff" stroke-width="0.8" stroke-linejoin="round" stroke-opacity="0.9" clip-path="url(#us)">
<polyline points="333.0,287.0 331.0,350.0"/>
<polyline points="290.0,347.5 331.0,350.0"/>
<polyline points="335.0,286.5 349.0,285.0 385.0,287.0 422.0,289.0"/>
<polyline points="335.0,293.0 365.0,294.0 365.0,318.0 374.0,323.0 384.0,327.0 394.0,330.0 406.0,329.0 418.0,329.0 427.0,334.0 428.0,340.0 431.0,360.0 432.0,372.0 433.0,381.0"/>
<polyline points="421.0,268.0 422.0,289.0 422.0,295.0 423.0,330.0 427.0,334.0"/>
<polyline points="422.0,295.0 450.0,295.0 472.0,293.0 530.0,287.0 554.0,284.0 610.0,274.0"/>
<polyline points="428.0,340.0 450.0,339.0 459.0,340.0"/>
<polyline points="469.0,313.0 516.0,309.0 540.0,307.0"/>
<polyline points="489.0,312.0 491.0,360.0 492.0,370.0"/>
<polyline points="516.0,309.0 526.0,342.0 527.0,360.0 528.0,363.0"/>
<polyline points="474.0,284.0 472.0,290.0 469.0,300.0 469.0,313.0 462.0,322.0 458.0,332.0 459.0,340.0 456.0,350.0 454.0,364.0 475.0,364.0 476.0,374.0"/>
<polyline points="540.0,307.0 550.0,316.0 562.0,328.0 572.0,337.0"/>
<polyline points="540.0,307.0 546.0,304.0 562.0,303.0 570.0,305.0 578.0,303.0 590.0,310.0"/>
<polyline points="529.0,304.0 540.0,296.0 554.0,284.0"/>
<polyline points="500.0,364.0 528.0,363.0 530.0,364.0 560.0,363.0 561.0,360.0"/>
<polyline points="500.0,364.0 501.0,370.0"/>
<polyline points="333.0,208.0 384.0,210.0 394.0,213.0 399.0,215.0 404.0,224.0 408.0,236.0 414.0,248.0 418.0,256.0 421.0,268.0"/>
<polyline points="269.0,180.0 271.0,175.0 334.0,182.0 333.0,208.0 332.0,230.0 349.0,231.0 349.0,248.0 348.0,270.0 349.0,285.0"/>
<polyline points="334.0,182.0 337.0,170.0 338.0,131.6"/>
<polyline points="349.0,248.0 414.0,248.0"/>
<polyline points="264.0,225.0 280.5,228.0 333.0,230.5"/>
<polyline points="410.0,242.0 450.0,241.0 456.0,241.0"/>
<polyline points="403.0,204.0 450.0,203.0"/>
<polyline points="398.0,134.0 399.0,150.0 401.0,173.0 403.0,180.0 403.0,204.0 399.0,215.0"/>
<polyline points="337.0,170.0 398.0,173.0 401.0,173.0"/>
<polyline points="234.0,115.0 236.0,128.0 243.0,140.0 242.0,148.0 247.0,160.0 253.0,177.0 268.0,177.0 270.0,175.0"/>
<polyline points="229.0,114.0 223.0,152.0 218.0,165.0 216.0,200.0"/>
<polyline points="161.0,133.0 169.0,137.0 182.0,145.0 198.0,148.0 222.0,150.0"/>
<polyline points="142.0,191.0 180.0,197.0 210.0,201.0 236.0,208.0 262.5,212.0"/>
<polyline points="180.0,197.0 173.0,230.0 179.0,250.0 203.0,283.0 213.0,295.0"/>
<polyline points="216.0,282.0 213.0,294.0 214.0,306.0 209.0,318.0 207.0,324.0"/>
<polyline points="236.0,208.0 229.0,250.0 226.0,273.0 216.0,282.0"/>
<polyline points="226.0,273.0 275.0,279.0 349.0,284.0"/>
<polyline points="281.0,228.0 275.0,279.0"/>
<polyline points="269.0,180.0 262.5,212.0 264.0,225.0"/>
<polyline points="273.0,280.0 268.0,322.0 266.0,352.0"/>
<polyline points="465.0,214.0 484.0,213.0"/>
<polyline points="488.0,223.0 489.0,250.0 487.0,260.0 484.0,270.0 474.0,284.0"/>
<polyline points="514.0,221.0 516.0,254.0"/>
<polyline points="495.0,223.0 514.0,221.0 529.0,219.0"/>
<polyline points="554.0,212.0 559.0,240.0 606.0,233.0"/>
<polyline points="554.0,210.0 559.0,209.0 602.0,202.0 608.0,210.0 606.0,216.0 611.0,224.0 607.0,232.0"/>
<polyline points="451.0,210.0 458.0,214.0 465.0,214.0 458.0,224.0 454.0,232.0 458.0,244.0 452.0,256.0 458.0,262.0 466.0,268.0 474.0,284.0"/>
<polyline points="474.0,286.0 488.0,278.0 498.0,274.0 506.0,270.0 508.0,260.0 517.0,256.0 524.0,263.0 540.0,263.0 542.0,260.0 552.0,250.0 556.0,240.0 557.0,232.0"/>
<polyline points="542.0,260.0 550.0,272.0 544.0,280.0 528.0,287.0"/>
<polyline points="550.0,272.0 564.0,266.0 570.0,254.0 578.0,242.0 584.0,240.0"/>
<polyline points="440.0,163.0 438.0,172.0 435.0,178.0 437.0,186.0 444.0,196.0 450.0,204.0 451.0,210.0"/>
<polyline points="457.0,164.0 462.5,167.0 472.5,169.4 480.0,172.5 482.0,179.0"/>
<polyline points="610.0,161.6 616.0,180.0 619.0,190.0 620.0,210.0"/>
<polyline points="628.0,157.0 624.0,176.0 625.0,186.0"/>
<polyline points="634.0,156.0 640.0,180.0"/>
<polyline points="619.0,187.0 640.0,183.0"/>
<polyline points="619.0,197.0 638.0,194.0"/>
</g>
</svg></body></html>
